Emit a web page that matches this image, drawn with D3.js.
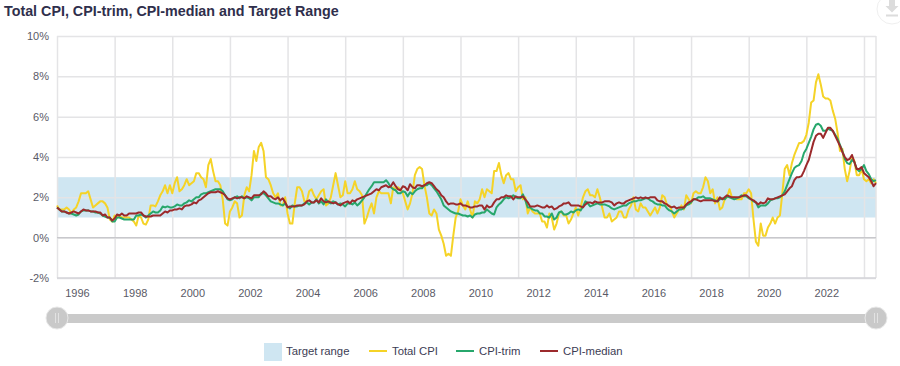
<!DOCTYPE html>
<html>
<head>
<meta charset="utf-8">
<title>Total CPI, CPI-trim, CPI-median and Target Range</title>
<script src="https://cdn.jsdelivr.net/npm/d3@7"></script>
<style>
html, body { margin: 0; padding: 0; background: #fff; overflow: hidden; }
text { font-family: "Liberation Sans", Arial, sans-serif; }
</style>
</head>
<body>
<svg id="chart" width="900" height="366"></svg>
<script>
// monthly year-over-year values, Jan 1996 to Jun 2024
const totalCpi = [
  1.6,1.4,1.4,1.4,1.5,1.4,1.2,1.4,1.5,1.8,2.2,2.2,
  2.2,2.3,1.9,1.5,1.6,1.7,1.8,1.8,1.7,1.5,0.9,0.8,
  1.1,1.0,1.1,1.0,1.0,1.0,1.0,0.9,0.8,0.6,1.1,1.0,
  0.7,0.65,0.9,1.6,1.6,1.55,1.8,2.1,2.3,2.6,2.2,2.6,
  2.2,2.7,3.0,2.3,2.4,2.6,2.9,2.6,2.7,2.8,3.2,3.2,
  3.0,2.9,2.5,3.6,3.9,3.3,2.8,2.8,2.6,1.9,0.7,0.6,
  1.3,1.5,1.8,1.7,1.0,1.1,2.1,2.5,2.3,3.1,4.3,3.8,
  4.5,4.7,4.3,3.0,2.9,2.6,2.2,2.0,2.2,1.6,1.6,2.0,
  1.2,0.7,0.7,1.7,2.5,2.5,2.3,1.8,1.8,2.3,2.4,2.1,
  1.9,2.1,2.3,2.4,1.6,1.7,2.0,2.6,3.2,2.6,2.0,2.1,
  2.8,2.2,2.2,2.4,2.8,2.4,2.3,2.1,0.7,1.0,1.4,1.7,
  1.2,2.0,2.3,2.2,2.2,2.2,2.2,1.7,2.5,2.4,2.5,2.4,
  2.2,1.8,1.4,1.7,2.2,3.1,3.4,3.5,3.4,2.6,2.0,1.2,
  1.1,1.4,1.2,0.4,0.1,-0.3,-0.9,-0.8,-0.9,0.1,1.0,1.3,
  1.9,1.6,1.4,1.8,1.4,1.0,1.8,1.7,1.9,2.4,2.0,2.4,
  2.3,2.2,3.3,3.3,3.7,3.1,2.7,3.1,3.2,2.9,2.9,2.3,
  2.5,2.6,1.9,2.0,1.2,1.5,1.3,1.2,1.2,1.2,0.8,0.8,
  0.5,1.2,1.0,0.4,0.7,1.2,1.3,1.1,1.1,0.7,0.9,1.2,
  1.5,1.1,1.5,2.0,2.3,2.4,2.1,2.1,2.0,2.4,2.0,1.5,
  1.0,1.0,1.2,0.8,0.9,1.0,1.3,1.3,1.0,1.0,1.4,1.6,
  2.0,1.4,1.3,1.7,1.5,1.5,1.3,1.1,1.3,1.5,1.2,1.5,
  2.1,2.0,1.6,1.6,1.3,1.0,1.2,1.4,1.6,1.4,2.1,1.9,
  1.7,2.2,2.3,2.2,2.2,2.5,3.0,2.8,2.2,2.4,1.7,2.0,
  1.4,1.5,1.9,2.0,2.4,2.0,2.0,1.9,1.9,1.9,2.2,2.2,
  2.4,2.2,0.9,-0.2,-0.4,0.7,0.1,0.1,0.5,0.7,1.0,0.7,
  1.0,1.1,2.2,3.4,3.6,3.1,3.7,4.1,4.4,4.7,4.7,4.8,
  5.1,5.7,6.7,6.8,7.7,8.1,7.6,7.0,6.9,6.9,6.8,6.3,
  5.9,5.2,4.3,4.4,3.4,2.8,3.3,4.0,3.8,3.1,3.1,3.4,
  2.9,2.8,2.9,2.7,2.9,2.7
];
const cpiTrim = [
  1.5,1.4,1.3,1.3,1.25,1.2,1.2,1.15,1.1,1.15,1.3,1.35,
  1.35,1.35,1.3,1.3,1.25,1.25,1.2,1.1,1.05,1.0,1.0,0.8,
  0.8,1.0,1.0,0.95,0.9,0.9,0.9,0.9,0.9,1.1,1.1,1.15,
  1.1,1.0,1.1,1.2,1.3,1.25,1.25,1.35,1.55,1.5,1.55,1.5,
  1.5,1.55,1.65,1.6,1.6,1.7,1.75,1.85,1.8,1.9,2.0,2.0,
  2.15,2.2,2.2,2.25,2.3,2.35,2.4,2.4,2.4,2.3,2.1,1.9,
  1.85,1.9,2.0,2.05,1.95,2.05,1.95,2.0,1.95,1.85,2.0,2.0,
  2.0,2.2,2.2,2.1,1.95,1.8,1.75,1.7,1.7,1.65,1.6,1.7,
  1.55,1.45,1.6,1.55,1.55,1.6,1.6,1.7,1.75,1.65,1.75,1.75,
  1.9,1.7,1.8,1.65,1.9,1.75,1.7,1.8,1.75,1.65,1.7,1.65,
  1.55,1.7,1.7,1.65,1.75,1.6,1.7,1.85,2.0,2.2,2.4,2.55,
  2.75,2.75,2.75,2.75,2.75,2.85,2.7,2.5,2.4,2.35,2.2,2.2,
  2.3,2.25,2.05,2.25,2.15,2.3,2.4,2.45,2.45,2.6,2.6,2.7,
  2.6,2.45,2.3,2.1,1.9,1.6,1.5,1.4,1.3,1.25,1.2,1.2,
  1.15,1.1,1.1,1.05,1.1,1.0,1.15,1.2,1.2,1.25,1.25,1.4,
  1.3,1.2,1.15,1.5,1.65,1.75,1.9,2.0,1.95,2.0,2.1,2.0,
  1.95,1.95,2.15,1.85,1.5,1.5,1.4,1.35,1.35,1.2,1.2,1.05,
  1.05,1.0,1.2,0.9,1.0,1.25,1.3,1.15,1.15,1.2,1.3,1.25,
  1.35,1.4,1.35,1.55,1.8,1.7,1.55,1.6,1.65,1.7,1.65,1.65,
  1.65,1.6,1.55,1.45,1.4,1.45,1.5,1.55,1.6,1.6,1.7,1.75,
  1.8,1.8,1.85,1.85,1.9,1.95,1.95,1.85,1.8,1.7,1.65,1.65,
  1.6,1.6,1.45,1.35,1.3,1.2,1.3,1.4,1.4,1.45,1.6,1.65,
  1.75,1.9,1.9,2.0,2.0,2.05,1.95,1.95,1.95,1.9,1.85,1.8,
  1.9,1.95,1.9,2.05,2.0,1.95,1.9,1.95,2.0,2.1,2.05,2.05,
  1.95,1.9,1.8,1.75,1.5,1.6,1.6,1.6,1.7,1.85,1.9,1.95,
  1.95,2.0,2.1,2.3,2.6,2.9,3.2,3.45,3.55,3.6,3.8,4.2,
  4.4,4.7,5.0,5.37,5.6,5.65,5.55,5.3,5.3,5.4,5.35,5.3,
  5.1,4.9,4.6,4.3,3.9,3.7,3.65,3.85,3.75,3.4,3.3,3.4,
  3.6,3.3,3.15,2.9,2.8,2.85
];
const cpiMedian = [
  1.5,1.4,1.3,1.3,1.25,1.2,1.25,1.3,1.25,1.2,1.3,1.4,
  1.35,1.35,1.3,1.3,1.3,1.25,1.25,1.1,1.15,1.0,1.0,0.85,
  0.95,1.15,1.1,1.2,1.1,1.1,1.2,1.2,1.2,1.2,1.25,1.25,
  1.1,1.05,1.05,1.05,1.1,1.1,1.1,1.1,1.2,1.3,1.25,1.35,
  1.35,1.4,1.4,1.45,1.4,1.55,1.6,1.6,1.65,1.75,1.7,1.85,
  1.9,2.0,2.1,2.2,2.25,2.25,2.25,2.3,2.25,2.2,2.1,1.95,
  1.9,1.95,2.0,1.95,2.0,2.0,1.95,2.05,2.0,1.95,2.1,2.1,
  2.1,2.15,2.3,2.2,2.05,2.05,1.95,1.9,2.0,1.85,1.95,1.75,
  1.5,1.55,1.55,1.55,1.6,1.6,1.6,1.65,1.8,1.85,1.75,1.75,
  1.85,1.75,1.95,1.8,1.75,1.8,1.75,1.7,1.75,1.65,1.6,1.7,
  1.75,1.8,1.7,1.85,1.8,1.9,1.95,2.0,2.05,2.1,2.15,2.2,
  2.3,2.4,2.35,2.5,2.55,2.6,2.5,2.55,2.75,2.55,2.4,2.35,
  2.55,2.5,2.35,2.65,2.5,2.45,2.6,2.6,2.55,2.6,2.7,2.75,
  2.7,2.55,2.4,2.3,2.1,2.0,1.8,1.65,1.7,1.7,1.65,1.65,
  1.7,1.6,1.6,1.55,1.5,1.5,1.55,1.55,1.6,1.6,1.4,1.6,
  1.5,1.55,1.75,1.9,1.9,2.0,2.0,2.1,2.05,2.05,1.9,2.05,
  2.0,2.0,2.05,1.9,1.75,1.55,1.55,1.55,1.6,1.55,1.5,1.5,
  1.6,1.5,1.55,1.4,1.45,1.55,1.6,1.7,1.7,1.75,1.6,1.6,
  1.6,1.6,1.55,1.5,1.65,1.75,1.75,1.7,1.8,1.75,1.75,1.75,
  1.8,1.8,1.8,1.75,1.6,1.7,1.75,1.7,1.7,1.8,1.85,1.9,
  1.95,2.0,1.95,2.0,1.95,2.0,1.95,2.0,2.0,2.0,1.85,1.8,
  1.8,1.7,1.65,1.55,1.5,1.55,1.45,1.5,1.5,1.5,1.65,1.75,
  1.8,1.9,1.9,1.85,1.8,1.85,1.85,1.85,1.85,1.85,1.8,1.8,
  2.0,1.9,2.0,2.1,2.05,2.0,2.0,2.0,2.0,2.05,2.1,2.1,
  2.0,1.9,1.85,1.75,1.65,1.75,1.7,1.75,1.95,1.9,1.9,1.95,
  2.0,2.05,2.1,2.15,2.3,2.45,2.55,2.85,3.0,3.0,3.05,3.3,
  3.6,3.85,4.3,4.75,5.05,5.15,5.15,4.95,5.2,5.45,5.45,5.3,
  5.05,4.8,4.55,4.25,4.0,3.85,3.9,4.1,3.75,3.4,3.4,3.5,
  3.2,3.1,3.0,2.8,2.55,2.7
];
const targetRange = [1, 3];
const yTicks = [-2, 0, 2, 4, 6, 8, 10];
const yearTicks = d3.range(1996, 2025, 2);
const legendItems = [
  { name: "Total CPI", color: "#f5d327" },
  { name: "CPI-trim", color: "#27a76c" },
  { name: "CPI-median", color: "#9c2a2c" }
];

const months = totalCpi.map((_, i) => i);
const plotLeft = 57, plotRight = 876, plotTop = 36, plotBottom = 278;
const textColor = "#5a5a66", gridColor = "#e4e4e6";

const svg = d3.select("#chart");
const x = d3.scalePoint().domain(months).range([plotLeft, plotRight]);
const y = d3.scaleLinear().domain([-2, 10]).range([plotBottom, plotTop]);
const monthOfYear = yr => (yr - 1996) * 12;

svg.append("text").attr("x", 4).attr("y", 16)
  .attr("font-size", 14.3).attr("font-weight", 700).attr("fill", "#2f2f4c")
  .text("Total CPI, CPI-trim, CPI-median and Target Range");

// target band goes under the grid
svg.append("rect")
  .attr("x", plotLeft).attr("width", plotRight - plotLeft)
  .attr("y", y(targetRange[1])).attr("height", y(targetRange[0]) - y(targetRange[1]))
  .attr("fill", "#cfe6f2");

const yAxis = svg.append("g").attr("transform", `translate(${plotLeft},0)`)
  .call(d3.axisLeft(y).tickValues(yTicks).tickSize(-(plotRight - plotLeft)).tickPadding(8).tickFormat(d => d + "%"));
const xAxis = svg.append("g").attr("transform", `translate(0,${plotBottom})`)
  .call(d3.axisBottom(x).tickValues(yearTicks.map(monthOfYear)).tickSize(-(plotBottom - plotTop)).tickPadding(11)
    .tickFormat(d => { const yr = 1996 + d / 12; return yr < 2024 ? yr : ""; }));
[yAxis, xAxis].forEach(g => {
  g.select(".domain").remove();
  g.selectAll("line").attr("stroke", gridColor).attr("stroke-width", 1.5);
  g.selectAll("text").attr("font-size", 11).attr("font-family", null).attr("fill", textColor);
});
yAxis.selectAll("text").attr("x", -8);
xAxis.selectAll("text").attr("dx", 20);

// plot frame, only the right edge and baseline are darker than the grid
svg.append("line").attr("x1", plotRight).attr("x2", plotRight).attr("y1", plotTop).attr("y2", plotBottom)
  .attr("stroke", gridColor).attr("stroke-width", 1.5);
svg.append("line").attr("x1", plotLeft).attr("x2", plotRight).attr("y1", y(0)).attr("y2", y(0))
  .attr("stroke", "#c8c8cc").attr("stroke-width", 1.2);
svg.append("line").attr("x1", plotLeft).attr("x2", plotRight).attr("y1", plotBottom).attr("y2", plotBottom)
  .attr("stroke", "#d4d4d8").attr("stroke-width", 1.5);

const line = d3.line().x((d, i) => x(i)).y(d => y(d));
[totalCpi, cpiTrim, cpiMedian].forEach((values, i) => {
  svg.append("path").datum(values).attr("d", line)
    .attr("fill", "none").attr("stroke", legendItems[i].color)
    .attr("stroke-width", 2).attr("stroke-linejoin", "round");
});

// range slider
svg.append("rect").attr("x", plotLeft).attr("y", 314).attr("width", plotRight - plotLeft).attr("height", 9).attr("fill", "#cacaca");
[plotLeft, plotRight].forEach(cx => {
  const h = svg.append("g").attr("transform", `translate(${cx},318)`);
  h.append("circle").attr("r", 11).attr("fill", "#c9c9c9").attr("stroke", "#e8e8e8");
  [-1.5, 1.5].forEach(dx => h.append("line").attr("x1", dx).attr("x2", dx).attr("y1", -5).attr("y2", 5)
    .attr("stroke", "#e2e2e2"));
});

// legend
const legendTextColor = "#3c3c54";
svg.append("rect").attr("x", 264).attr("y", 343).attr("width", 18).attr("height", 18).attr("fill", "#cfe6f2");
svg.append("text").attr("x", 286).attr("y", 355).attr("font-size", 11.3).attr("fill", legendTextColor).text("Target range");
const legendX = [369, 456, 540];
legendItems.forEach((d, i) => {
  svg.append("line").attr("x1", legendX[i]).attr("x2", legendX[i] + 18).attr("y1", 351).attr("y2", 351)
    .attr("stroke", d.color).attr("stroke-width", 2);
  svg.append("text").attr("x", legendX[i] + 23).attr("y", 355).attr("font-size", 11.3).attr("fill", legendTextColor).text(d.name);
});

// export button, cut off by the window corner
const btn = svg.append("g").attr("transform", "translate(892,9)");
btn.append("circle").attr("r", 15).attr("fill", "#fff").attr("stroke", "#efefef");
btn.append("path").attr("d", "M-3 -9H3V-3H6.5L0 3.5L-6.5 -3H-3Z").attr("fill", "#dcdcdc");
btn.append("rect").attr("x", -6).attr("y", 5.5).attr("width", 12).attr("height", 2).attr("fill", "#dcdcdc");
</script>
</body>
</html>
